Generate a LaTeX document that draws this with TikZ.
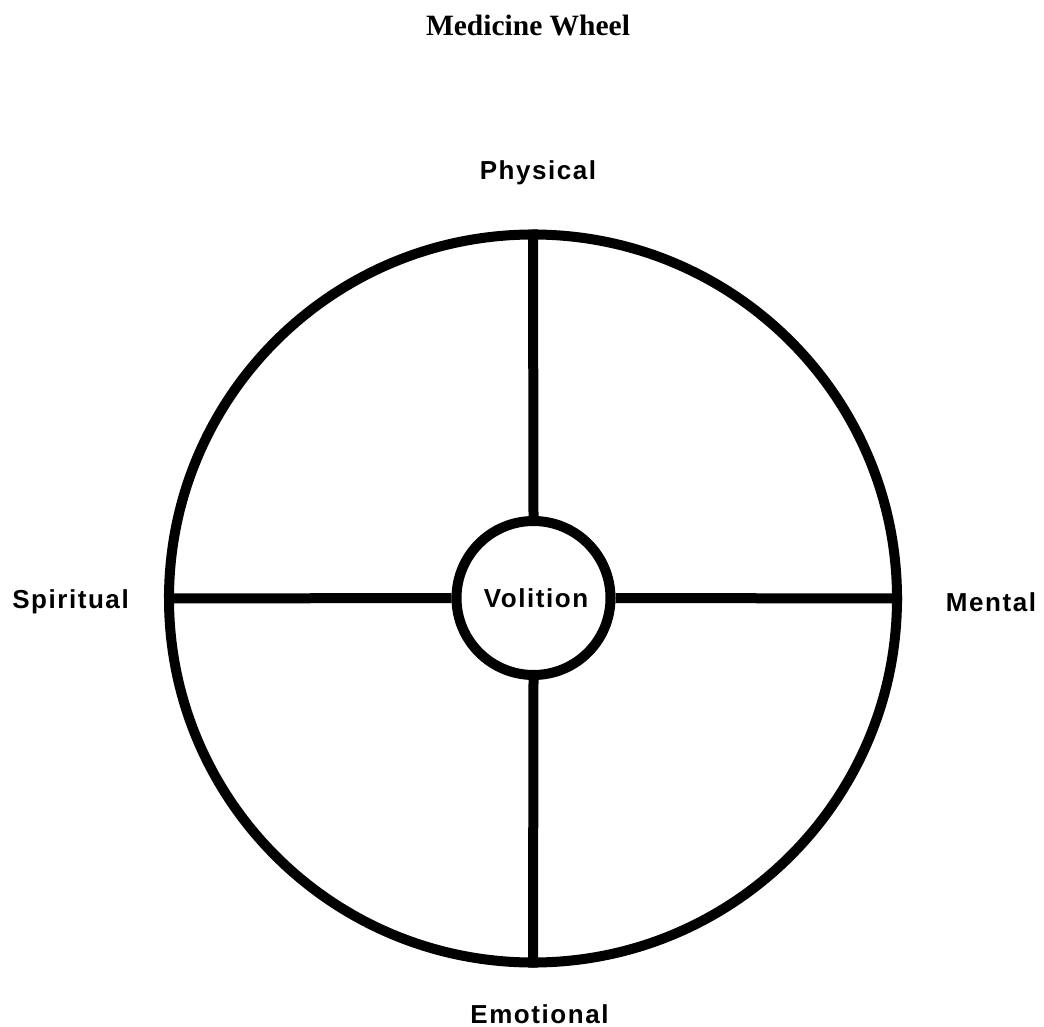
\documentclass[tikz,border=0pt]{standalone}
\usepackage{fontspec}
\newfontfamily\labfont{Liberation Sans}[LetterSpace=6.0]
\newfontfamily\titlefont{Liberation Serif}
\begin{document}
\begin{tikzpicture}[x=1pt,y=-1pt,
  ring/.style={draw=black,circle,line width=10pt,inner sep=0pt},
  spoke/.style={draw=black,line width=10pt},
  lab/.style={font=\labfont\bfseries\fontsize{26}{30}\selectfont,inner sep=0pt,anchor=base},
  ttl/.style={font=\titlefont\bfseries\fontsize{29.5}{34}\selectfont,inner sep=0pt,anchor=base}]
\path[use as bounding box,fill=white] (0,0) rectangle (1044,1027);
\node[ring,minimum size=728pt] (wheel) at (533,598.5) {};
\node[ring,minimum size=154pt,fill=white] (vol) at (533.5,598) {};
\draw[spoke] (vol.north) -- (wheel.north);
\draw[spoke] (vol.south) -- (wheel.south);
\draw[spoke] (vol.west) -- (wheel.west);
\draw[spoke] (vol.east) -- (wheel.east);
\node[lab] (voltext) at (536,607) {Volition};
\node[lab] (phys) at (538,180) {Physical};
\node[lab] (spir) at (70.5,608) {Spiritual};
\node[lab] (ment) at (991,611) {Mental};
\node[lab] (emot) at (539.5,1023) {Emotional};
\node[ttl] (title) at (528,36) {Medicine Wheel};
\end{tikzpicture}
\end{document}
